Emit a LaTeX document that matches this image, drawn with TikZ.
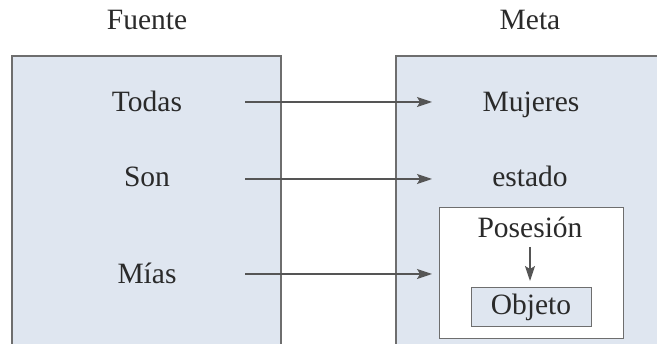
\documentclass[tikz,border=0pt]{standalone}
\usepackage{fontspec}
\setmainfont{Liberation Serif}
\usetikzlibrary{arrows.meta}
\definecolor{panelfill}{HTML}{DFE6F0}
\definecolor{panelline}{HTML}{6E6E6E}
\definecolor{arrowcol}{HTML}{555555}
\definecolor{textcol}{HTML}{2A2A2A}
\begin{document}
\begin{tikzpicture}[x=1pt,y=-1pt,
  panel/.style={draw=panelline,line width=1.2pt,fill=panelfill},
  inner/.style={draw=panelline,line width=1pt,fill=white},
  word/.style={text=textcol,font=\fontsize{29.5}{32}\selectfont,inner sep=0pt,anchor=base},
  arr/.style={draw=arrowcol,line width=1.2pt,-{Stealth[length=15pt,width=10pt,inset=3pt]}}]
  \useasboundingbox (0,0) rectangle (657,344);
  \clip (0,0) rectangle (657,344);
  % the two panels, running past the lower edge
  \path[panel] (12,56) rectangle (281,360);
  \path[panel] (396,56) rectangle (670,360);
  % titles
  \node[word] (fuente) at (147,30) {Fuente};
  \node[word] (meta) at (530,30) {Meta};
  % source words
  \node[word] (todas) at (147,112) {Todas};
  \node[word] (son) at (147,187) {Son};
  \node[word] (mias) at (147,284) {Mías};
  % target words
  \node[word] (mujeres) at (531,112) {Mujeres};
  \node[word] (estado) at (530,187) {estado};
  % possession frame
  \path[inner] (439,208) rectangle (623,339);
  \node[word] (posesion) at (530,238) {Posesión};
  \node[draw=panelline,line width=1pt,fill=panelfill,text=textcol,
        font=\fontsize{29.5}{32}\selectfont,inner sep=0pt,
        minimum width=120pt,minimum height=39pt] (objeto) at (531,307.5) {Objeto};
  % arrow end points
  \coordinate (todasout) at (245,102);
  \coordinate (mujeresin) at (432,102);
  \coordinate (sonout) at (245,179);
  \coordinate (estadoin) at (432,179);
  \coordinate (miasout) at (245,274);
  \coordinate (frameout) at (432,274);
  \coordinate (posout) at (530,247);
  \coordinate (objin) at (530,281);
  % mappings
  \draw[arr] (todasout) -- (mujeresin);
  \draw[arr] (sonout) -- (estadoin);
  \draw[arr] (miasout) -- (frameout);
  \draw[arr] (posout) -- (objin);
\end{tikzpicture}
\end{document}
